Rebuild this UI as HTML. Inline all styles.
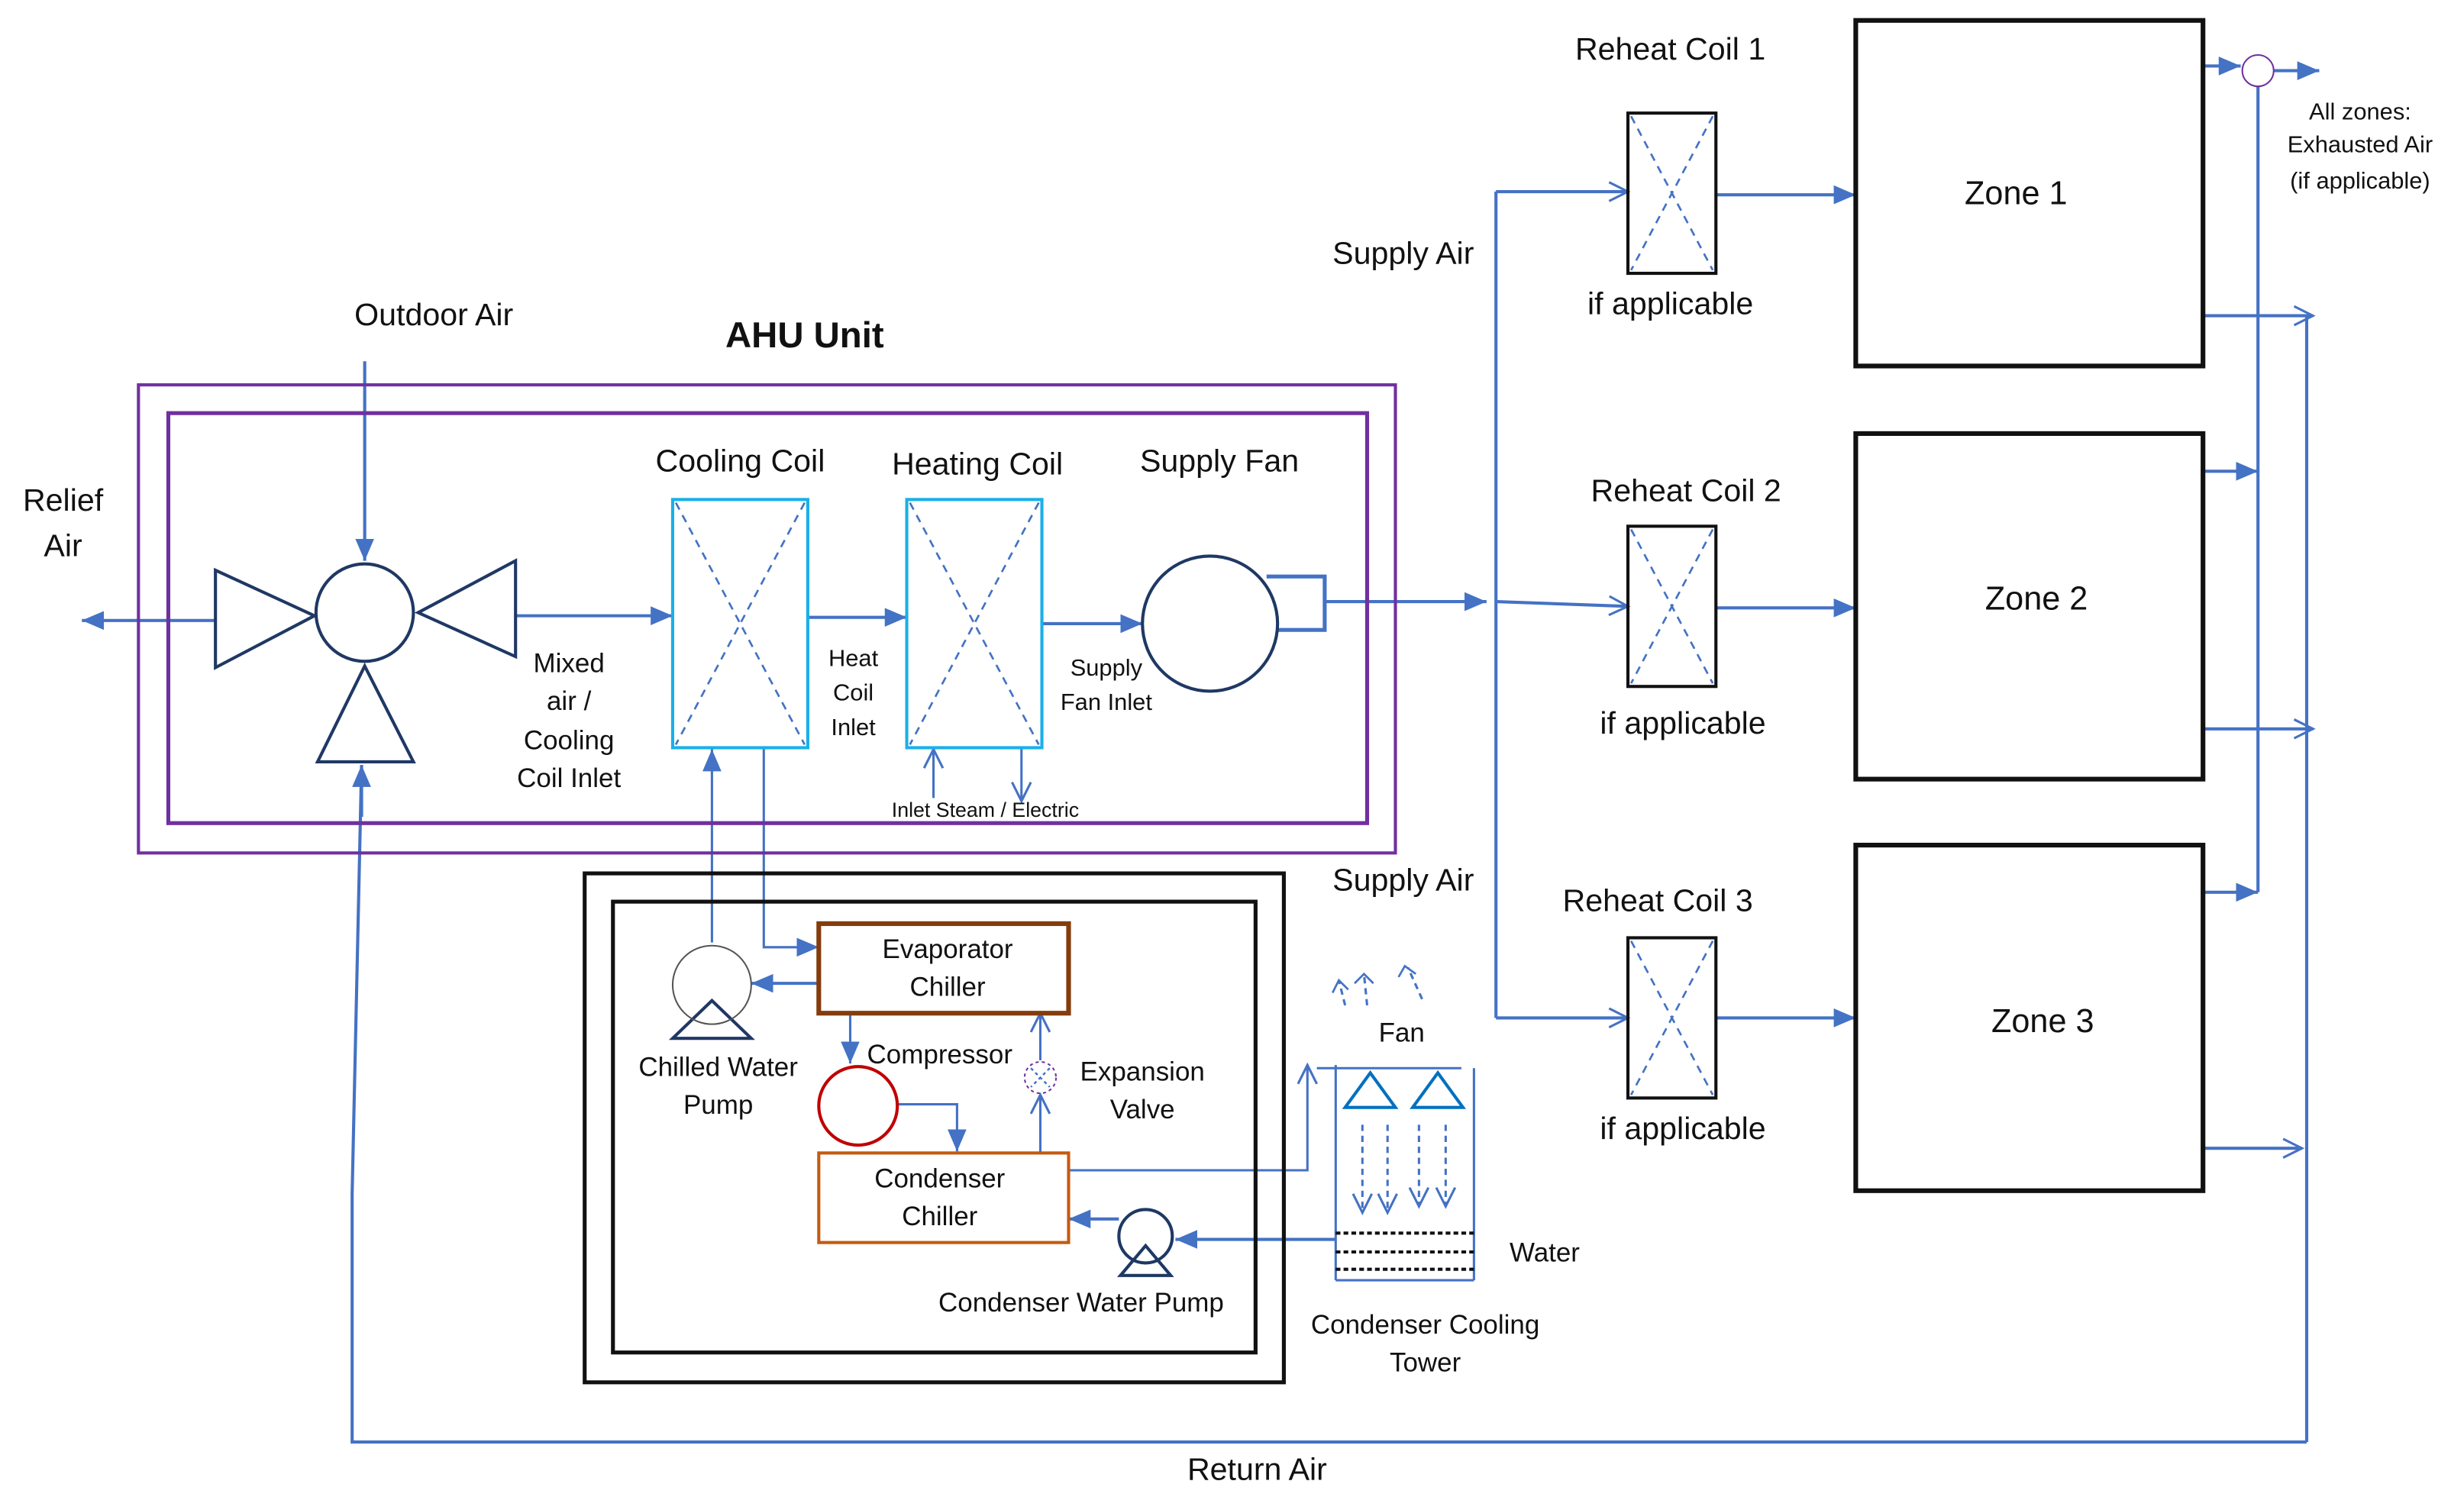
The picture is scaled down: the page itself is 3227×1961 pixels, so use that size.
<!DOCTYPE html>
<html><head><meta charset="utf-8"><style>
html,body{margin:0;padding:0;background:#fff}
svg{display:block}
text{font-family:"Liberation Sans",sans-serif;fill:#111;text-anchor:middle}
</style></head><body>
<svg width="3227" height="1961" viewBox="0 0 1568 953" xmlns="http://www.w3.org/2000/svg">
<defs>
<marker id="a" markerUnits="userSpaceOnUse" markerWidth="16" markerHeight="16" refX="14" refY="8" orient="auto"><path d="M0,2 L14,8 L0,14 Z" fill="#4472c4"/></marker>
<marker id="o" markerUnits="userSpaceOnUse" markerWidth="16" markerHeight="16" refX="14" refY="8" orient="auto"><path d="M2,2 L14,8 L2,14" fill="none" stroke="#4472c4" stroke-width="1.5"/></marker>
</defs>
<g stroke="#4472c4" stroke-width="2" fill="none">
<!-- AHU -->
<line x1="232" y1="230" x2="232" y2="357" marker-end="url(#a)"/>
<line x1="137" y1="395" x2="52" y2="395" marker-end="url(#a)"/>
<line x1="328" y1="392" x2="428" y2="392" marker-end="url(#a)"/>
<line x1="514" y1="393" x2="577" y2="393" marker-end="url(#a)"/>
<line x1="663" y1="397" x2="727" y2="397" marker-end="url(#a)"/>
<polyline points="806,367 843,367 843,401 813,401" stroke-width="2.5"/>
<line x1="843" y1="383" x2="946" y2="383" marker-end="url(#a)"/>
<line x1="594" y1="508" x2="594" y2="477" marker-end="url(#o)" stroke-width="1.5"/>
<line x1="650" y1="476" x2="650" y2="510" marker-end="url(#o)" stroke-width="1.5"/>
<line x1="453" y1="600" x2="453" y2="477" marker-end="url(#a)" stroke-width="1.5"/>
<polyline points="486,476 486,603 521,603" marker-end="url(#a)" stroke-width="1.5"/>
<line x1="521" y1="626" x2="478" y2="626" marker-end="url(#a)"/>
<line x1="541" y1="645" x2="541" y2="677" marker-end="url(#a)" stroke-width="1.5"/>
<polyline points="571,703 609,703 609,733" marker-end="url(#a)" stroke-width="1.5"/>
<line x1="662" y1="734" x2="662" y2="697" marker-end="url(#o)" stroke-width="1.5"/>
<line x1="662" y1="675" x2="662" y2="645" marker-end="url(#o)" stroke-width="1.5"/>
<polyline points="680,745 832,745 832,678" marker-end="url(#o)" stroke-width="1.5"/>
<line x1="712" y1="776" x2="680" y2="776" marker-end="url(#a)"/>
<line x1="850" y1="789" x2="748" y2="789" marker-end="url(#a)"/>
<!-- tower -->
<line x1="850" y1="678" x2="850" y2="815" stroke-width="1.5"/>
<line x1="938" y1="680" x2="938" y2="815" stroke-width="1.5"/>
<line x1="850" y1="815" x2="938" y2="815" stroke-width="1.5"/>
<line x1="838" y1="680" x2="930" y2="680" stroke-width="1.5"/>
<g stroke-dasharray="4,3" stroke-width="1.5">
<line x1="867" y1="716" x2="867" y2="772" marker-end="url(#o)"/>
<line x1="883" y1="716" x2="883" y2="772" marker-end="url(#o)"/>
<line x1="903" y1="716" x2="903" y2="768" marker-end="url(#o)"/>
<line x1="920" y1="716" x2="920" y2="768" marker-end="url(#o)"/>
<line x1="856" y1="640" x2="852" y2="624"/><line x1="870" y1="640" x2="868" y2="620"/><line x1="905" y1="636" x2="896" y2="616"/>
</g>
<path d="M848,632 L852,624 L858,630 M862,626 L868,620 L874,626 M890,622 L894,615 L901,620" stroke-width="1.3"/>
<!-- distribution -->
<line x1="952" y1="122" x2="952" y2="648"/>
<line x1="952" y1="122" x2="1036" y2="122" marker-end="url(#o)"/>
<line x1="952" y1="383" x2="1036" y2="386" marker-end="url(#o)"/>
<line x1="952" y1="648" x2="1036" y2="648" marker-end="url(#o)"/>
<line x1="1092" y1="124" x2="1181" y2="124" marker-end="url(#a)"/>
<line x1="1092" y1="387" x2="1181" y2="387" marker-end="url(#a)"/>
<line x1="1092" y1="648" x2="1181" y2="648" marker-end="url(#a)"/>
<line x1="1402" y1="42" x2="1426" y2="42" marker-end="url(#a)"/>
<line x1="1447" y1="45" x2="1476" y2="45" marker-end="url(#a)"/>
<line x1="1437" y1="55" x2="1437" y2="568"/>
<line x1="1402" y1="300" x2="1437" y2="300" marker-end="url(#a)"/>
<line x1="1402" y1="568" x2="1437" y2="568" marker-end="url(#a)"/>
<line x1="1468" y1="200" x2="1468" y2="918"/>
<line x1="1402" y1="201" x2="1472" y2="201" marker-end="url(#o)"/>
<line x1="1402" y1="464" x2="1472" y2="464" marker-end="url(#o)"/>
<line x1="1402" y1="731" x2="1465" y2="731" marker-end="url(#o)"/>
<polyline points="1468,918 224,918 224,760 230,487" />
<line x1="230" y1="520" x2="230" y2="487" marker-end="url(#a)"/>
</g>
<!-- AHU boxes -->
<rect x="88" y="245" width="800" height="298" fill="none" stroke="#7030a0" stroke-width="2"/>
<rect x="107" y="263" width="763" height="261" fill="none" stroke="#7030a0" stroke-width="2.5"/>
<g stroke="#1f3864" stroke-width="2" fill="none">
<circle cx="232" cy="390" r="31"/>
<polygon points="137,363 137,425 200,392"/>
<polygon points="328,357 328,418 266,390"/>
<polygon points="232,424 202,485 263,485"/>
<circle cx="770" cy="397" r="43"/>
<polygon points="453,637 428,661 478,661"/>
<circle cx="729" cy="787" r="17"/>
<polygon points="729,793 713,812 745,812"/>
</g>
<circle cx="453" cy="627" r="25" fill="none" stroke="#555" stroke-width="1"/>
<rect x="428" y="318" width="86" height="158" fill="none" stroke="#1ab0e8" stroke-width="2"/>
<rect x="577" y="318" width="86" height="158" fill="none" stroke="#1ab0e8" stroke-width="2"/>
<g stroke="#4472c4" stroke-width="1.3" stroke-dasharray="5,4">
<line x1="430" y1="320" x2="512" y2="474"/><line x1="512" y1="320" x2="430" y2="474"/>
<line x1="579" y1="320" x2="661" y2="474"/><line x1="661" y1="320" x2="579" y2="474"/>
<line x1="1038" y1="74" x2="1090" y2="172"/><line x1="1090" y1="74" x2="1038" y2="172"/>
<line x1="1038" y1="337" x2="1090" y2="435"/><line x1="1090" y1="337" x2="1038" y2="435"/>
<line x1="1038" y1="599" x2="1090" y2="697"/><line x1="1090" y1="599" x2="1038" y2="697"/>
</g>
<!-- chiller plant -->
<rect x="372" y="556" width="445" height="324" fill="none" stroke="#111" stroke-width="2.5"/>
<rect x="390" y="574" width="409" height="287" fill="none" stroke="#111" stroke-width="2.5"/>
<rect x="521" y="588" width="159" height="57" fill="none" stroke="#843c0c" stroke-width="3"/>
<rect x="521" y="734" width="159" height="57" fill="none" stroke="#c55a11" stroke-width="2"/>
<circle cx="546" cy="704" r="25" fill="none" stroke="#c00000" stroke-width="2"/>
<circle cx="662" cy="686" r="10" fill="none" stroke="#7030a0" stroke-width="1" stroke-dasharray="2,2"/>
<path d="M656,680 L668,692 M668,680 L656,692" stroke="#4472c4" stroke-width="1.2" stroke-dasharray="2,2"/>
<g stroke="#0070c0" stroke-width="2" fill="none">
<polygon points="872,683 856,705 888,705"/><polygon points="915,683 899,705 931,705"/>
</g>
<g stroke="#111" stroke-width="2" stroke-dasharray="3,2">
<line x1="850" y1="785" x2="938" y2="785"/><line x1="850" y1="797" x2="938" y2="797"/><line x1="850" y1="808" x2="938" y2="808"/>
</g>
<!-- reheat & zones -->
<g fill="none" stroke="#111">
<rect x="1036" y="72" width="56" height="102" stroke-width="2"/>
<rect x="1036" y="335" width="56" height="102" stroke-width="2"/>
<rect x="1036" y="597" width="56" height="102" stroke-width="2"/>
<rect x="1181" y="13" width="221" height="220" stroke-width="3"/>
<rect x="1181" y="276" width="221" height="220" stroke-width="3"/>
<rect x="1181" y="538" width="221" height="220" stroke-width="3"/>
</g>
<circle cx="1437" cy="45" r="10" fill="#fff" stroke="#7030a0" stroke-width="1"/>
<!-- text -->
<g font-size="20">
<text x="276" y="207">Outdoor Air</text>
<text x="512" y="221" font-weight="bold" font-size="23">AHU Unit</text>
<text x="40" y="325">Relief</text><text x="40" y="354">Air</text>
<text x="471" y="300">Cooling Coil</text>
<text x="622" y="302">Heating Coil</text>
<text x="776" y="300">Supply Fan</text>
<text x="893" y="168">Supply Air</text>
<text x="893" y="567">Supply Air</text>
<text x="1063" y="38">Reheat Coil 1</text>
<text x="1063" y="200">if applicable</text>
<text x="1073" y="319">Reheat Coil 2</text>
<text x="1071" y="467">if applicable</text>
<text x="1055" y="580">Reheat Coil 3</text>
<text x="1071" y="725">if applicable</text>
<text x="1283" y="130" font-size="21">Zone 1</text>
<text x="1296" y="388" font-size="21">Zone 2</text>
<text x="1300" y="657" font-size="21">Zone 3</text>
<text x="800" y="942">Return Air</text>
</g>
<g font-size="17">
<text x="362" y="428">Mixed</text><text x="362" y="452">air /</text><text x="362" y="477">Cooling</text><text x="362" y="501">Coil Inlet</text>
<text x="603" y="610">Evaporator</text><text x="603" y="634">Chiller</text>
<text x="457" y="685">Chilled Water</text><text x="457" y="709">Pump</text>
<text x="598" y="677">Compressor</text>
<text x="727" y="688">Expansion</text><text x="727" y="712">Valve</text>
<text x="598" y="756">Condenser</text><text x="598" y="780">Chiller</text>
<text x="688" y="835">Condenser Water Pump</text>
<text x="892" y="663">Fan</text>
<text x="983" y="803">Water</text>
<text x="907" y="849">Condenser Cooling</text><text x="907" y="873">Tower</text>
</g>
<g font-size="15">
<text x="543" y="424">Heat</text><text x="543" y="446">Coil</text><text x="543" y="468">Inlet</text>
<text x="704" y="430">Supply</text><text x="704" y="452">Fan Inlet</text>
<text x="1502" y="76">All zones:</text><text x="1502" y="97">Exhausted Air</text><text x="1502" y="120">(if applicable)</text>
</g>
<text x="627" y="520" font-size="13">Inlet Steam / Electric</text>
</svg>
</body></html>
